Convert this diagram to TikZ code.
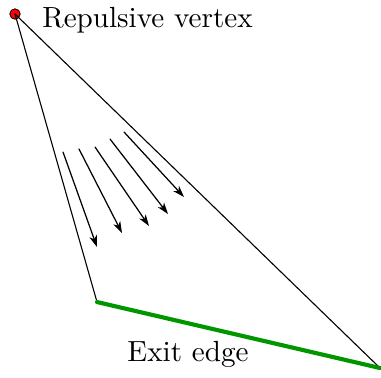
\documentclass[tikz,border=0pt]{standalone}
\usetikzlibrary{arrows.meta}
\definecolor{exitgreen}{RGB}{0,150,0}
\begin{document}
\begin{tikzpicture}[x=0.3636pt, y=-0.3636pt, line cap=round, line join=round,
    side/.style={line width=0.4pt},
    exit/.style={line width=1.5pt, draw=exitgreen},
    flow/.style={line width=0.45pt, -{Stealth[length=4.2pt, width=2.8pt, inset=1.2pt]}},
    rvert/.style={circle, draw, fill=red, line width=0.3pt, inner sep=0pt, minimum size=3.8pt},
    lbl/.style={font=\fontsize{10.6}{12.7}\selectfont, inner sep=1pt}]
  \useasboundingbox (0,0) rectangle (381,377);
  % 三角形的顶点
  \node[rvert] (v) at (15,14) {};
  \coordinate (b) at (97,302);
  \coordinate (c) at (380,368);
  \draw[side] (v.center) -- (b);
  \draw[side] (v.center) -- (c);
  \draw[exit] (b) -- (c);
  \node[lbl, anchor=west] (vl) at (39,20) {Repulsive vertex};
  \node[lbl] (el) at (188,354) {Exit edge};
  % 推离顶点的箭头
  \coordinate (s1) at (63,152);  \coordinate (e1) at (97,247);
  \coordinate (s2) at (79,149);  \coordinate (e2) at (122,233);
  \coordinate (s3) at (95,147);  \coordinate (e3) at (149,226);
  \coordinate (s4) at (110,139); \coordinate (e4) at (168,214);
  \coordinate (s5) at (124,132); \coordinate (e5) at (184,197);
  \draw[flow] (s1) -- (e1);
  \draw[flow] (s2) -- (e2);
  \draw[flow] (s3) -- (e3);
  \draw[flow] (s4) -- (e4);
  \draw[flow] (s5) -- (e5);
\end{tikzpicture}
\end{document}
